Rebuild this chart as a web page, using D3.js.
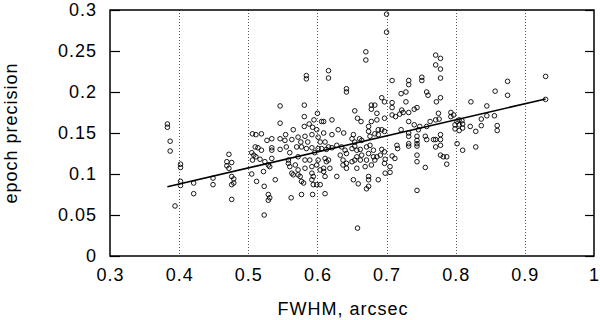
<!DOCTYPE html>
<html>
<head>
<meta charset="utf-8">
<script src="https://cdn.jsdelivr.net/npm/d3@7"></script>
<style>
  body { margin: 0; background: #fff; }
  text { font-family: "Liberation Sans", Arial, sans-serif; font-size: 18px; letter-spacing: 1px; fill: #000; }
</style>
</head>
<body>
<div id="chart"></div>
<script>
const width = 600,
    height = 320,
    margin = ({ top: 10, right: 6, bottom: 64, left: 110 });

// tick values
const xTicks = [0.3, 0.4, 0.5, 0.6, 0.7, 0.8, 0.9, 1];
const yTicks = [0, 0.05, 0.1, 0.15, 0.2, 0.25, 0.3];
const gridX = [0.4, 0.5, 0.6, 0.7, 0.8, 0.9];

// linear fit end points (FWHM, precision)
const fitX = [0.383, 0.930];
const fitY = [0.0845, 0.1915];

// measurements: [FWHM arcsec, epoch precision]
const samples = [
  [0.383,0.161],[0.383,0.157],[0.387,0.140],[0.387,0.128],[0.402,0.112],[0.402,0.108],[0.402,0.091],[0.402,0.086],
  [0.421,0.089],[0.421,0.076],[0.394,0.061],[0.449,0.095],[0.449,0.087],[0.472,0.124],[0.469,0.115],[0.476,0.114],
  [0.469,0.110],[0.472,0.107],[0.476,0.097],[0.479,0.094],[0.479,0.089],[0.476,0.087],[0.476,0.069],
  [0.506,0.149],[0.511,0.148],[0.510,0.133],[0.505,0.126],[0.508,0.123],[0.511,0.121],[0.506,0.117],[0.505,0.100],[0.512,0.091],
  [0.584,0.220],[0.584,0.216],[0.546,0.183],[0.581,0.184],[0.546,0.162],[0.581,0.170],[0.600,0.174],[0.595,0.166],
  [0.588,0.161],[0.581,0.158],[0.593,0.157],[0.599,0.154],[0.606,0.164],[0.565,0.154],[0.554,0.148],[0.519,0.149],
  [0.527,0.141],[0.534,0.143],[0.546,0.143],[0.553,0.141],[0.563,0.142],[0.572,0.145],[0.576,0.139],[0.582,0.146],
  [0.586,0.139],[0.592,0.148],[0.601,0.145],[0.604,0.139],[0.514,0.132],[0.519,0.129],[0.534,0.132],[0.534,0.129],
  [0.546,0.130],[0.555,0.133],[0.560,0.126],[0.570,0.133],[0.577,0.133],[0.584,0.131],[0.592,0.132],[0.596,0.126],
  [0.601,0.131],[0.517,0.118],[0.534,0.119],[0.558,0.117],[0.572,0.121],[0.582,0.117],[0.589,0.117],[0.601,0.117],
  [0.524,0.115],[0.531,0.109],[0.529,0.111],[0.558,0.113],[0.560,0.109],[0.568,0.111],[0.572,0.105],[0.582,0.107],
  [0.592,0.109],[0.599,0.111],[0.522,0.103],[0.563,0.101],[0.565,0.099],[0.572,0.099],[0.575,0.097],[0.577,0.091],
  [0.580,0.089],[0.592,0.101],[0.594,0.097],[0.592,0.093],[0.599,0.087],[0.594,0.087],[0.539,0.093],[0.523,0.085],
  [0.529,0.075],[0.531,0.071],[0.529,0.068],[0.562,0.071],[0.577,0.075],[0.593,0.075],[0.523,0.050],
  [0.616,0.226],[0.616,0.217],[0.642,0.204],[0.642,0.200],[0.654,0.177],[0.658,0.168],[0.663,0.164],[0.678,0.184],
  [0.683,0.184],[0.678,0.179],[0.686,0.174],[0.678,0.164],[0.686,0.166],[0.674,0.158],[0.609,0.164],[0.621,0.166],
  [0.630,0.154],[0.638,0.150],[0.609,0.150],[0.621,0.148],[0.652,0.148],[0.650,0.143],[0.654,0.139],[0.661,0.143],
  [0.664,0.141],[0.674,0.152],[0.676,0.146],[0.683,0.149],[0.688,0.154],[0.688,0.148],[0.611,0.139],[0.616,0.133],
  [0.606,0.131],[0.613,0.130],[0.621,0.132],[0.628,0.135],[0.635,0.133],[0.640,0.129],[0.633,0.123],[0.642,0.125],
  [0.650,0.131],[0.654,0.134],[0.657,0.129],[0.662,0.130],[0.657,0.121],[0.664,0.123],[0.671,0.133],[0.676,0.135],
  [0.681,0.129],[0.674,0.125],[0.681,0.121],[0.686,0.121],[0.611,0.119],[0.616,0.117],[0.613,0.115],[0.637,0.117],
  [0.642,0.113],[0.650,0.115],[0.654,0.117],[0.662,0.117],[0.671,0.117],[0.637,0.111],[0.609,0.107],[0.609,0.103],
  [0.618,0.107],[0.611,0.097],[0.604,0.105],[0.628,0.097],[0.642,0.107],[0.657,0.107],[0.669,0.109],[0.678,0.111],
  [0.683,0.117],[0.674,0.097],[0.674,0.093],[0.652,0.093],[0.659,0.088],[0.671,0.082],[0.674,0.085],[0.688,0.093],
  [0.604,0.087],[0.611,0.076],[0.658,0.034],
  [0.708,0.214],[0.732,0.214],[0.732,0.209],[0.751,0.218],[0.751,0.214],[0.758,0.200],[0.760,0.196],[0.721,0.198],
  [0.728,0.200],[0.693,0.193],[0.697,0.188],[0.708,0.187],[0.708,0.181],[0.728,0.188],[0.722,0.178],[0.719,0.173],
  [0.724,0.175],[0.732,0.175],[0.740,0.179],[0.744,0.181],[0.697,0.168],[0.708,0.172],[0.713,0.170],[0.732,0.164],
  [0.740,0.160],[0.748,0.158],[0.746,0.154],[0.758,0.158],[0.763,0.164],[0.693,0.154],[0.697,0.152],[0.721,0.154],
  [0.732,0.150],[0.732,0.146],[0.744,0.146],[0.744,0.141],[0.756,0.146],[0.758,0.142],[0.732,0.137],[0.732,0.134],
  [0.744,0.137],[0.744,0.134],[0.768,0.142],[0.693,0.130],[0.697,0.127],[0.691,0.123],[0.715,0.135],[0.716,0.131],
  [0.744,0.123],[0.698,0.118],[0.697,0.113],[0.705,0.109],[0.705,0.102],[0.698,0.101],[0.708,0.122],[0.712,0.119],
  [0.744,0.115],[0.756,0.108],[0.744,0.080],
  [0.771,0.245],[0.778,0.241],[0.771,0.233],[0.778,0.228],[0.778,0.217],[0.778,0.193],[0.772,0.188],[0.775,0.174],
  [0.771,0.166],[0.776,0.167],[0.793,0.175],[0.797,0.172],[0.793,0.170],[0.805,0.166],[0.809,0.165],[0.810,0.161],
  [0.805,0.160],[0.802,0.164],[0.799,0.160],[0.799,0.155],[0.810,0.156],[0.805,0.153],[0.822,0.188],[0.845,0.183],
  [0.837,0.167],[0.845,0.171],[0.837,0.159],[0.856,0.171],[0.857,0.201],[0.875,0.213],[0.875,0.196],[0.930,0.219],
  [0.930,0.191],[0.821,0.158],[0.829,0.152],[0.860,0.159],[0.860,0.153],[0.802,0.137],[0.810,0.129],[0.829,0.133],
  [0.771,0.142],[0.771,0.133],[0.778,0.148],[0.778,0.142],[0.778,0.135],[0.778,0.123],[0.782,0.121],[0.787,0.121],
  [0.787,0.112],
  [0.700,0.295],[0.700,0.273],[0.670,0.249],[0.670,0.239]
];

const svg = d3.select("#chart")
    .append("svg")
    .attr("width", width)
    .attr("height", height)
    .attr("viewBox", [0, 0, width, height]);

let x = d3.scaleLinear()
    .domain([0.3, 1])
    .range([margin.left, width - margin.right]);

let y = d3.scaleLinear()
    .domain([0, 0.3])
    .range([height - margin.bottom, margin.top]);

const fmt = d3.format("~g");

// dotted vertical grid
svg.append("g")
  .selectAll("line")
  .data(gridX)
  .join("line")
    .attr("x1", d => Math.round(x(d)) + 0.5)
    .attr("x2", d => Math.round(x(d)) + 0.5)
    .attr("y1", y(0.3))
    .attr("y2", y(0))
    .attr("stroke", "#555")
    .attr("stroke-width", 1)
    .attr("stroke-dasharray", "1,2");

// left axis, ticks pointing inward
svg.append("g")
  .attr("transform", `translate(${margin.left},0)`)
  .call(d3.axisLeft(y).tickValues(yTicks).tickFormat(fmt).tickSize(-10).tickPadding(13))
  .call(g => g.select(".domain").remove())
  .call(g => g.selectAll("line").attr("stroke-width", 1.2))
  .call(g => g.selectAll("text").attr("font-size", 18).attr("font-family", null));

// right axis ticks (no labels)
svg.append("g")
  .attr("transform", `translate(${width - margin.right},0)`)
  .call(d3.axisRight(y).tickValues(yTicks).tickFormat("").tickSize(-9))
  .call(g => g.select(".domain").remove())
  .call(g => g.selectAll("line").attr("stroke-width", 1.2));

// bottom axis labels
svg.append("g")
  .attr("transform", `translate(0,${height - margin.bottom})`)
  .call(d3.axisBottom(x).tickValues(xTicks).tickFormat(fmt).tickSize(0).tickPadding(12))
  .call(g => g.select(".domain").remove())
  .call(g => g.selectAll("text").attr("font-size", 18).attr("font-family", null));

// frame
svg.append("rect")
  .attr("x", margin.left)
  .attr("y", margin.top)
  .attr("width", width - margin.left - margin.right)
  .attr("height", height - margin.top - margin.bottom)
  .attr("fill", "none")
  .attr("stroke", "#000")
  .attr("stroke-width", 1.5);

// points
svg.append("g")
  .selectAll("circle")
  .data(samples)
  .join("circle")
    .attr("cx", d => x(d[0]))
    .attr("cy", d => y(d[1]))
    .attr("r", 2.3)
    .attr("fill", "none")
    .attr("stroke", "#000")
    .attr("stroke-width", 0.9);

// fit line
let line = d3.line()
    .x(d => x(d[0]))
    .y(d => y(d[1]));

svg.append("path")
  .datum(fitX.map((v, i) => [v, fitY[i]]))
  .attr("d", line)
  .attr("fill", "none")
  .attr("stroke", "#000")
  .attr("stroke-width", 1.6);

// axis titles
svg.append("text")
  .attr("x", 343)
  .attr("y", 315)
  .attr("text-anchor", "middle")
  .text("FWHM, arcsec");

svg.append("text")
  .attr("transform", `translate(17,${(margin.top + height - margin.bottom) / 2}) rotate(-90)`)
  .attr("text-anchor", "middle")
  .text("epoch precision");
</script>
</body>
</html>
